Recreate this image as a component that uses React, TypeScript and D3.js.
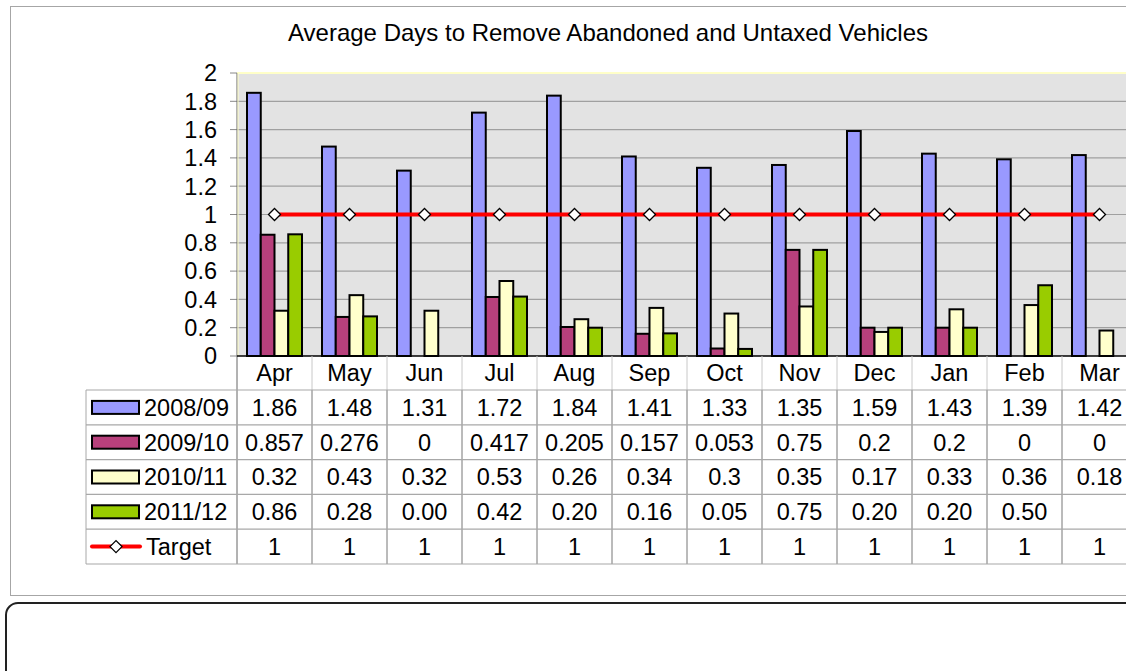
import React from "react";
import * as d3 from "d3";

const months = ["Apr", "May", "Jun", "Jul", "Aug", "Sep", "Oct", "Nov", "Dec", "Jan", "Feb", "Mar"];
const seriesNames = ["2008/09", "2009/10", "2010/11", "2011/12"];
const v0809 = [1.86, 1.48, 1.31, 1.72, 1.84, 1.41, 1.33, 1.35, 1.59, 1.43, 1.39, 1.42];
const v0910 = [0.857, 0.276, 0, 0.417, 0.205, 0.157, 0.053, 0.75, 0.2, 0.2, 0, 0];
const v1011 = [0.32, 0.43, 0.32, 0.53, 0.26, 0.34, 0.3, 0.35, 0.17, 0.33, 0.36, 0.18];
const v1112: (number | null)[] = [0.86, 0.28, 0.0, 0.42, 0.2, 0.16, 0.05, 0.75, 0.2, 0.2, 0.5, null];
const target = [1, 1, 1, 1, 1, 1, 1, 1, 1, 1, 1, 1];
const yTicks = [0, 0.2, 0.4, 0.6, 0.8, 1, 1.2, 1.4, 1.6, 1.8, 2];

const colors = ["#9999ff", "#b8407c", "#ffffcc", "#99cc00"];
const font = "'Liberation Sans', Arial, sans-serif";
const fs = 23.5;

export default function App() {
  const left = 237, right = 1137, top = 73, bottom = 356;
  const x0 = d3.scaleBand().domain(months).range([left, right]);
  const x1 = d3.scaleBand().domain(seriesNames).range([10, 65]);
  const y = d3.scaleLinear().domain([0, 2]).range([bottom, top]);
  const all = [v0809, v0910, v1011, v1112];
  const fmt = [
    (v: number | null) => (v == null ? "" : String(v)),
    (v: number | null) => (v == null ? "" : String(v)),
    (v: number | null) => (v == null ? "" : String(v)),
    (v: number | null) => (v == null ? "" : v.toFixed(2)),
  ];

  const tableTop = 390, rowH = 34.8, tableLeft = 86;
  const rows = 5;
  const dy = 8.3;
  const line = d3.line<number>()
    .x((_, i) => x0(months[i])! + x0.bandwidth() / 2)
    .y((d) => y(d));

  const diamond = (cx: number, cy: number) =>
    `M${cx - 6},${cy}L${cx},${cy - 6}L${cx + 6},${cy}L${cx},${cy + 6}Z`;

  return (
    <svg width={1126} height={671}
      style={{ position: "absolute", left: 0, top: 0, display: "block", fontFamily: font }}>
      <rect x={0} y={0} width={1126} height={671} fill="#fff" />
      <rect x={10.5} y={6.5} width={1200} height={589} fill="#fff" stroke="#a6a6a6" />
      <rect x={6} y={603} width={1200} height={120} rx={12} fill="#fff" stroke="#222" strokeWidth={2} />

      <text x={608} y={41} textAnchor="middle" fontSize={24}>
        Average Days to Remove Abandoned and Untaxed Vehicles
      </text>

      {/* plot area */}
      <rect x={left} y={top} width={right - left} height={bottom - top} fill="#e3e3e3" />
      <line x1={left} x2={right} y1={top} y2={top} stroke="#ffffc8" strokeWidth={2} />
      {yTicks.filter((t) => t > 0 && t < 2).map((t) => (
        <line key={t} x1={left} x2={right} y1={y(t)} y2={y(t)} stroke="#a0a0a0" strokeWidth={1.2} />
      ))}
      {yTicks.map((t) => (
        <g key={"t" + t}>
          <line x1={230} x2={left} y1={y(t)} y2={y(t)} stroke="#888" />
          <text x={217} y={y(t) + dy} textAnchor="end" fontSize={fs}>{t}</text>
        </g>
      ))}

      {/* bars */}
      {all.map((vals, s) =>
        vals.map((v, i) =>
          v != null && v > 0 ? (
            <rect key={s + "-" + i}
              x={x0(months[i])! + x1(seriesNames[s])!}
              y={y(v)}
              width={x1.bandwidth()}
              height={bottom - y(v)}
              fill={colors[s]} stroke="#000" strokeWidth={2} />
          ) : null
        )
      )}

      <line x1={left} x2={left} y1={top} y2={tableTop + rowH * rows} stroke="#666" />
      <line x1={left + 1} x2={left + 1} y1={top} y2={bottom} stroke="#ffffc8" />
      <line x1={left} x2={right} y1={bottom} y2={bottom} stroke="#000" strokeWidth={1.5} />

      {/* target */}
      <path d={line(target)!} fill="none" stroke="#ff0000" strokeWidth={4} />
      {target.map((v, i) => (
        <path key={"d" + i} d={diamond(x0(months[i])! + x0.bandwidth() / 2, y(v))}
          fill="#fff" stroke="#000" strokeWidth={1.3} />
      ))}

      {/* data table */}
      {months.map((m) => (
        <g key={m}>
          <line x1={x0(m)! + x0.bandwidth()} x2={x0(m)! + x0.bandwidth()} y1={bottom} y2={tableTop}
            stroke="#c8c8c8" />
          <line x1={x0(m)! + x0.bandwidth()} x2={x0(m)! + x0.bandwidth()} y1={tableTop} y2={tableTop + rowH * rows}
            stroke="#777" />
          <text x={x0(m)! + x0.bandwidth() / 2} y={bottom + 17 + dy} textAnchor="middle" fontSize={fs}>{m}</text>
        </g>
      ))}
      {d3.range(rows + 1).map((r) => (
        <line key={"r" + r} x1={tableLeft} x2={right} y1={tableTop + r * rowH} y2={tableTop + r * rowH}
          stroke="#a8a8a8" strokeWidth={1.2} />
      ))}
      <line x1={tableLeft} x2={tableLeft} y1={tableTop} y2={tableTop + rowH * rows} stroke="#a8a8a8" />

      {all.map((vals, s) => {
        const cy = tableTop + s * rowH + rowH / 2;
        return (
          <g key={"row" + s}>
            <rect x={92} y={cy - 6.5} width={47} height={13} fill={colors[s]} stroke="#000" strokeWidth={2} />
            <text x={144} y={cy + dy} fontSize={fs}>{seriesNames[s]}</text>
            {vals.map((v, i) => (
              <text key={i} x={x0(months[i])! + x0.bandwidth() / 2} y={cy + dy}
                textAnchor="middle" fontSize={fs}>{fmt[s](v)}</text>
            ))}
          </g>
        );
      })}
      {(() => {
        const cy = tableTop + 4 * rowH + rowH / 2;
        return (
          <g>
            <line x1={92} x2={140} y1={cy} y2={cy} stroke="#ff0000" strokeWidth={4} strokeLinecap="round" />
            <path d={diamond(116, cy)} fill="#fff" stroke="#000" strokeWidth={1.3} />
            <text x={146} y={cy + dy} fontSize={fs}>Target</text>
            {target.map((v, i) => (
              <text key={i} x={x0(months[i])! + x0.bandwidth() / 2} y={cy + dy}
                textAnchor="middle" fontSize={fs}>{v}</text>
            ))}
          </g>
        );
      })()}
    </svg>
  );
}
